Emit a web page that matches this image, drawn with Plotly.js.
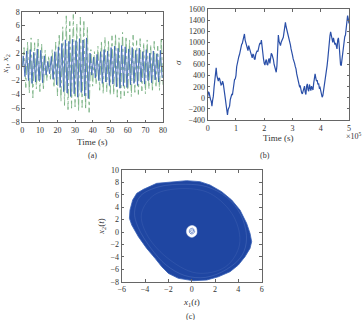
<!DOCTYPE html>
<html>
<head>
<meta charset="utf-8">
<script src="https://cdn.plot.ly/plotly-3.0.1.min.js"></script>
<style>
  html, body { margin: 0; padding: 0; background: #fff; }
  #chart { width: 362px; height: 320px; }
</style>
</head>
<body>
<div id="chart"></div>
<script>
// ---- (a) state trajectories: per-cycle extremes of x1 and x2 ----
const cyclePeriod = 2; // seconds per oscillation
const x1Max = [1.6, 2.3, 2.5, 2.1, 2.6, 2.4, 1.6, 0.8, 1.5, 2.2,
               2.9, 3.4, 3.9, 3.7, 4.0, 3.8, 4.1, 3.9, 4.2, 2.0,
               1.4, 1.8, 2.2, 2.5, 2.3, 2.8, 3.0, 2.7, 3.1, 2.9,
               2.6, 2.8, 2.4, 2.7, 2.2, 2.5, 2.0, 2.3, 1.9, 2.4];
const x1Min = [-1.4, -2.0, -2.4, -2.2, -2.0, -2.3, -1.2, -1.0, -1.8, -2.6,
               -3.0, -3.6, -3.8, -4.3, -3.9, -4.4, -3.7, -4.2, -4.6, -1.2,
               -1.6, -2.0, -2.4, -2.2, -2.7, -2.5, -2.9, -3.1, -2.8, -3.0,
               -2.6, -2.4, -2.7, -2.2, -2.5, -2.0, -2.3, -1.9, -2.2, -1.6];
const x2Max = [2.8, 3.6, 4.2, 3.5, 4.0, 3.3, 2.4, 1.6, 2.5, 3.6,
               4.8, 5.8, 7.4, 6.6, 7.6, 6.2, 7.2, 6.8, 5.8, 2.5,
               2.2, 3.0, 3.8, 4.3, 3.9, 4.5, 4.8, 4.2, 5.0, 4.4,
               3.9, 4.6, 3.8, 4.1, 3.5, 3.9, 3.2, 3.7, 3.0, 4.2];
const x2Min = [-3.0, -3.8, -4.5, -3.2, -3.6, -3.4, -2.0, -1.8, -3.0, -4.2,
               -5.0, -5.6, -6.2, -6.0, -5.8, -6.4, -5.9, -6.2, -6.6, -2.8,
               -2.6, -3.4, -3.9, -3.6, -4.1, -4.0, -4.4, -4.6, -4.2, -3.8,
               -4.3, -3.7, -4.0, -3.5, -3.9, -3.2, -3.6, -3.0, -3.4, -2.6];

// ---- (b) adaptive parameter sigma over 0 .. 5e5 s ----
const sigmaEnd = 5e5;
const sigmaVals = [20, 110, 90, 10, -30, -60, -150, -40, 30, 190, 280, 360, 540, 400, 330, 300,
  360, 340, 280, 230, 240, 300, 260, 190, 60, -20, -120, -250, -310, -210, -180, -150, -30, 40,
  60, 50, 140, 260, 330, 340, 400, 560, 650, 720, 740, 780, 860, 930, 960, 980, 1060, 1090, 1150,
  1040, 990, 960, 880, 850, 940, 900, 820, 780, 760, 720, 790, 770, 700, 690, 780, 840, 850, 830,
  920, 950, 990, 970, 1040, 870, 760, 700, 620, 590, 660, 690, 600, 590, 680, 710, 620, 700, 800,
  780, 740, 690, 600, 560, 490, 460, 580, 900, 1130, 1020, 960, 940, 1000, 1040, 1060, 1090, 1180,
  1290, 1360, 1280, 1230, 1210, 1150, 1100, 1020, 960, 880, 840, 770, 700, 670, 620, 560, 520, 430,
  360, 310, 280, 200, 210, 130, 90, 70, 140, 180, 210, 100, 60, 210, 250, 150, 120, 240, 200, 130,
  210, 170, 140, 260, 380, 430, 360, 300, 320, 240, 260, 180, 190, 130, 50, 10, 40, 120, 200, 330,
  440, 480, 580, 700, 880, 1000, 1110, 1190, 1100, 1050, 1000, 1080, 1040, 960, 990, 900, 880, 1040,
  1080, 960, 760, 600, 580, 700, 830, 900, 960, 1100, 1130, 1220, 1300, 1480, 1420, 1340];

// ---- (c) phase portrait x1-x2: outer envelope, inner streaks, central hole ----
const outerX1 = [-0.43, -1.57, -3.0, -4.14, -4.71, -5.06, -5.29, -5.34, -5.14, -4.57, -3.86, -3.14,
                 -2.57, -2.0, -1.14, 0.14, 1.29, 2.29, 3.29, 4.0, 4.57, 5.0, 5.14, 5.0, 4.71, 4.14,
                 3.43, 2.57, 1.57, 0.71, -0.43];
const outerX2 = [8.28, 8.12, 7.85, 6.88, 6.24, 5.16, 3.55, 2.21, 1.13, -0.75, -2.63, -4.24,
                 -5.58, -6.66, -7.46, -7.84, -7.73, -7.2, -6.39, -5.31, -3.97, -2.63, -1.55, -0.2, 1.4, 3.55,
                 5.16, 6.51, 7.58, 8.12, 8.28];
const ringAX1 = [-0.5, -2.8, -4.4, -4.9, -4.6, -3.5, -2.2, -0.6, 1.2, 3.0, 4.3, 4.7, 4.2, 3.0, 1.3, -0.5];
const ringAX2 = [7.7, 7.3, 5.8, 3.2, 0.8, -2.6, -5.3, -7.0, -7.3, -6.0, -3.8, -1.0, 2.8, 5.6, 7.3, 7.7];
const ringBX1 = [-0.8, -3.2, -4.3, -3.9, -2.2, 0.4, 2.9, 4.1, 3.6, 1.6, -0.8];
const ringBX2 = [7.0, 6.0, 3.0, -0.2, -4.0, -6.6, -5.6, -2.0, 2.5, 6.2, 7.0];
const holeX1 = [0.45, 0.35, 0.0, -0.35, -0.45, -0.3, 0.05, 0.4, 0.45];
const holeX2 = [0.2, 0.8, 1.05, 0.7, 0.0, -0.6, -0.85, -0.4, 0.2];
const coreX1 = [0.2, 0.1, -0.15, -0.2, -0.05, 0.15, 0.25, 0.05, -0.1, 0.0, 0.2];
const coreX2 = [0.3, 0.6, 0.45, 0.0, -0.3, -0.2, 0.1, 0.35, 0.2, -0.1, 0.3];

// Expand per-cycle extremes into an alternating max/min trajectory.
function trajectory(maxArr, minArr, offset) {
  const t = [0], v = [0];
  for (let k = 0; k < maxArr.length; k++) {
    t.push(k * cyclePeriod + offset);
    v.push(maxArr[k]);
    t.push(k * cyclePeriod + offset + cyclePeriod / 2);
    v.push(minArr[k]);
  }
  return { t, v };
}
const tr1 = trajectory(x1Max, x1Min, 0.5);
const tr2 = trajectory(x2Max, x2Min, 1.0);
const sigmaT = sigmaVals.map((_, i) => i * sigmaEnd / (sigmaVals.length - 1));

const FONT = 'Liberation Serif, DejaVu Serif, serif';
const TICKF = { family: FONT, size: 8, color: '#333' };

const traces = [
  { x: tr2.t, y: tr2.v, xaxis: 'x', yaxis: 'y', mode: 'lines', hoverinfo: 'skip',
    line: { color: '#72ad7c', width: 0.8, dash: 'dashdot' } },
  { x: tr1.t, y: tr1.v, xaxis: 'x', yaxis: 'y', mode: 'lines', hoverinfo: 'skip',
    line: { color: '#4068b6', width: 0.9 } },
  { x: sigmaT, y: sigmaVals, xaxis: 'x2', yaxis: 'y2', mode: 'lines', hoverinfo: 'skip',
    line: { color: '#2a4fa8', width: 1.2 } },
  { x: outerX1, y: outerX2, xaxis: 'x3', yaxis: 'y3', mode: 'lines', fill: 'toself',
    fillcolor: '#1f46a2', line: { color: '#3a62b8', width: 0.8 }, hoverinfo: 'skip' },
  { x: ringAX1, y: ringAX2, xaxis: 'x3', yaxis: 'y3', mode: 'lines', hoverinfo: 'skip',
    line: { color: 'rgba(160,185,230,0.35)', width: 0.5, shape: 'spline' } },
  { x: ringBX1, y: ringBX2, xaxis: 'x3', yaxis: 'y3', mode: 'lines', hoverinfo: 'skip',
    line: { color: 'rgba(160,185,230,0.22)', width: 0.5, shape: 'spline' } },
  { x: holeX1, y: holeX2, xaxis: 'x3', yaxis: 'y3', mode: 'lines', fill: 'toself',
    fillcolor: '#ffffff', line: { color: '#dfe6f5', width: 0.5, shape: 'spline' }, hoverinfo: 'skip' },
  { x: coreX1, y: coreX2, xaxis: 'x3', yaxis: 'y3', mode: 'lines', hoverinfo: 'skip',
    line: { color: '#3a62b8', width: 0.7, shape: 'spline' } }
];

function axis(extra) {
  return Object.assign({
    showgrid: false, zeroline: false, showline: true, mirror: 'ticks',
    linecolor: '#666', linewidth: 1, ticks: 'inside', ticklen: 2.5, tickcolor: '#666',
    tickfont: TICKF, fixedrange: true
  }, extra);
}

function label(text, x, y, angle, size) {
  return { text, x: x / 362, y: 1 - y / 320, xref: 'paper', yref: 'paper', showarrow: false,
           textangle: angle || 0, font: { family: FONT, size: size || 9, color: '#333' },
           xanchor: 'center', yanchor: 'middle' };
}

const layout = {
  width: 362, height: 320,
  margin: { l: 0, r: 0, t: 0, b: 0 },
  paper_bgcolor: '#fff', plot_bgcolor: '#fff',
  showlegend: false,
  xaxis: axis({ domain: [22.3 / 362, 163 / 362], range: [0, 80], tickvals: [0, 10, 20, 30, 40, 50, 60, 70, 80], anchor: 'y' }),
  yaxis: axis({ domain: [1 - 122 / 320, 1 - 11.7 / 320], range: [-8, 8], tickvals: [-8, -6, -4, -2, 0, 2, 4, 6, 8], anchor: 'x' }),
  xaxis2: axis({ domain: [207.7 / 362, 349 / 362], range: [0, 5e5], tickvals: [0, 1e5, 2e5, 3e5, 4e5, 5e5],
                 ticktext: ['0', '1', '2', '3', '4', '5'], anchor: 'y2' }),
  yaxis2: axis({ domain: [1 - 120 / 320, 1 - 9 / 320], range: [-400, 1600],
                 tickvals: [-400, -200, 0, 200, 400, 600, 800, 1000, 1200, 1400, 1600], anchor: 'x2' }),
  xaxis3: axis({ domain: [121.7 / 362, 261.7 / 362], range: [-6, 6], tickvals: [-6, -4, -2, 0, 2, 4, 6], anchor: 'y3' }),
  yaxis3: axis({ domain: [1 - 281.7 / 320, 1 - 170 / 320], range: [-8, 10],
                 tickvals: [-8, -6, -4, -2, 0, 2, 4, 6, 8, 10], anchor: 'x3' }),
  annotations: [
    label('<i>x</i><sub>1</sub>, <i>x</i><sub>2</sub>', 6, 64, -90),
    label('Time (s)', 92, 142),
    label('(a)', 92, 155, 0, 8),
    label('<i>σ</i>', 178, 63, -90),
    label('Time (s)', 278, 138),
    label('×10<sup>5</sup>', 354, 136, 0, 8),
    label('(b)', 265, 155, 0, 8),
    label('<i>x</i><sub>2</sub>(<i>t</i>)', 101, 227, -90),
    label('<i>x</i><sub>1</sub>(<i>t</i>)', 191, 302),
    label('(c)', 190, 316, 0, 8)
  ]
};

Plotly.newPlot('chart', traces, layout, { staticPlot: true, displayModeBar: false });
</script>
</body>
</html>
